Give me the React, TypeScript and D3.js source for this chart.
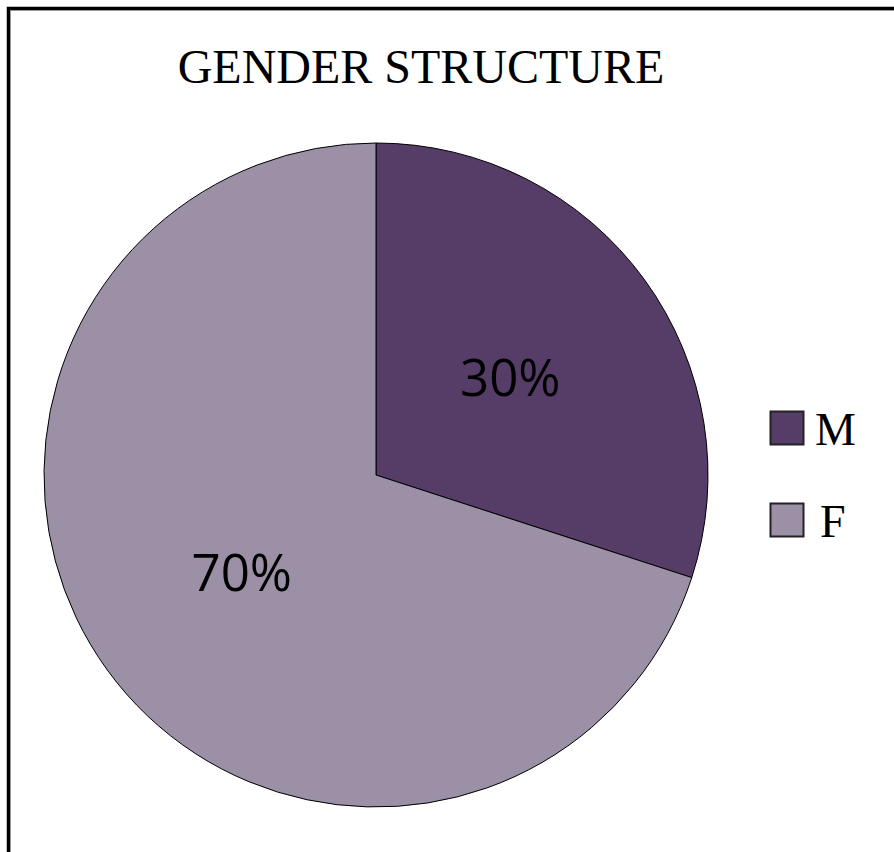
import React from "react";
import * as d3 from "d3";

const categories = ["M", "F"];
const values = [30, 70];
const labels = ["30%", "70%"];
const colors = ["#553D68", "#9B90A6"];
const title = "GENDER STRUCTURE";

export default function App() {
  const W = 894, H = 852;
  const cx = 376, cy = 475, r = 332;
  const pie = d3.pie<number>().sort(null).value((d) => d)(values);
  const arc = d3.arc<d3.PieArcDatum<number>>().innerRadius(0).outerRadius(r);
  const labelArc = d3.arc<d3.PieArcDatum<number>>().innerRadius(r * 0.5).outerRadius(r * 0.5);
  return (
    <svg width={W} height={H} style={{ position: "absolute", left: 0, top: 0, display: "block" }}>
      <rect x={0} y={0} width={W} height={H} fill="#fff" />
      <path d={`M8.5,${H + 5} L8.5,8.5 L${W + 5},8.5`} fill="none" stroke="#000" strokeWidth={3.5} />
      <path d={`M10.5,${H + 5} L10.5,10.5 L${W + 5},10.5`} fill="none" stroke="#999" strokeWidth={1} />
      <text x={421} y={83} textAnchor="middle" fontFamily="Liberation Serif" fontSize={48} fill="#000">
        {title}
      </text>
      <g transform={`translate(${cx},${cy})`}>
        {pie.map((p, i) => (
          <path key={i} d={arc(p) || ""} fill={colors[i]} stroke="#000" strokeWidth={1} />
        ))}
        {pie.map((p, i) => {
          const [lx, ly] = labelArc.centroid(p);
          return (
            <text key={"l" + i} x={lx} y={ly} dy="0.357em" textAnchor="middle"
              fontFamily="Open Sans" fontSize={51} fill="#000">
              {labels[i]}
            </text>
          );
        })}
      </g>
      {categories.map((c, i) => (
        <g key={c} transform={`translate(770,${411 + i * 92})`}>
          <rect x={0.5} y={0.5} width={33} height={33} fill={colors[i]} stroke="#222" strokeWidth={2} />
          <text x={c === "F" ? 50 : 45} y={34} fontFamily="Liberation Serif" fontSize={46} fill="#000">{c}</text>
        </g>
      ))}
    </svg>
  );
}
